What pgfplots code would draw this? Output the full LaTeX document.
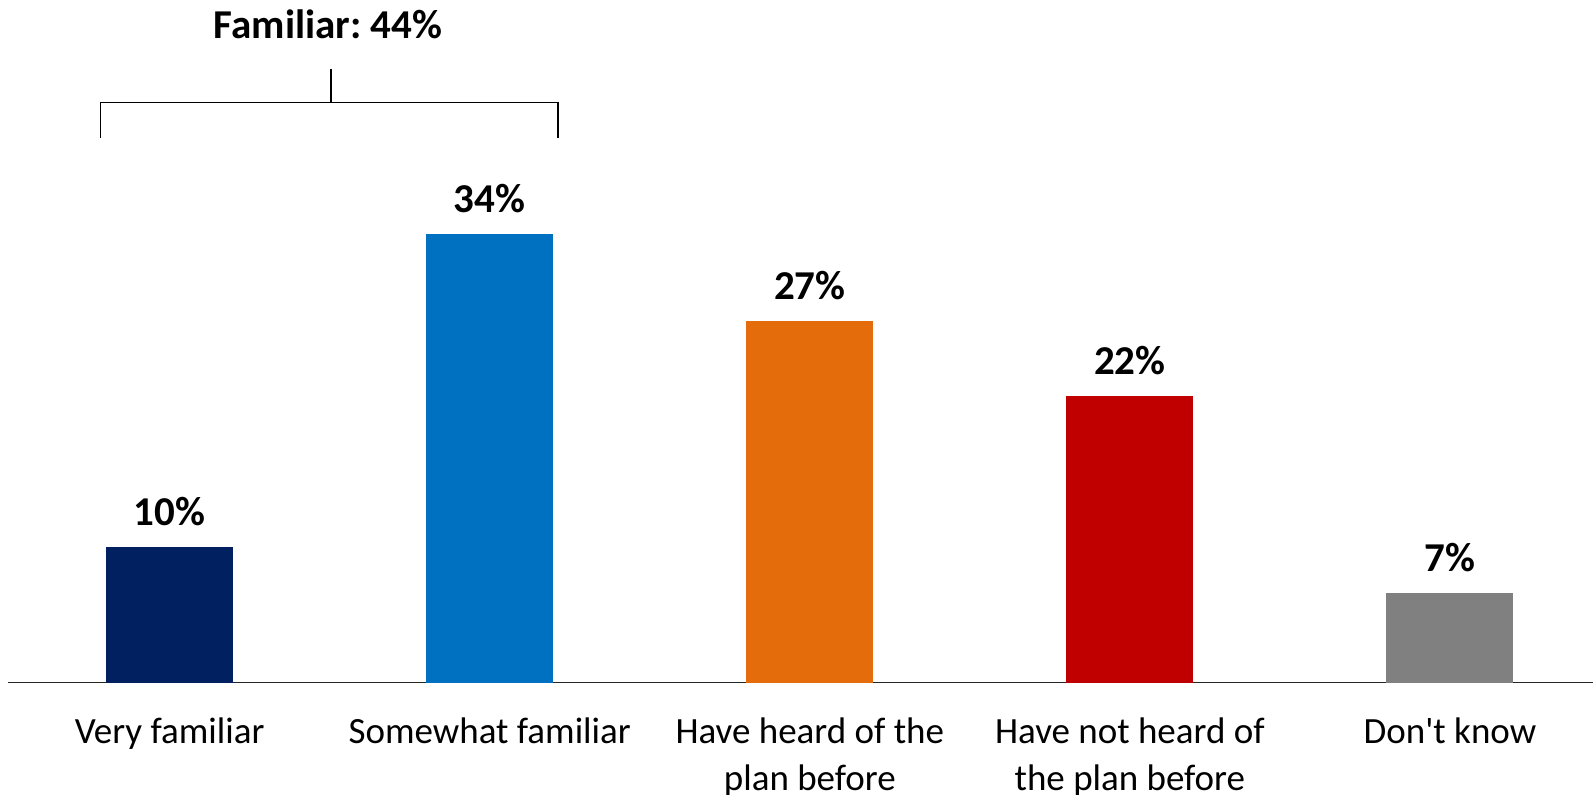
\documentclass[border=0pt]{standalone}
\usepackage{fontspec}
\setmainfont{Carlito}
\usepackage{pgfplots}
\pgfplotsset{compat=1.18}
\frenchspacing
\definecolor{c1}{HTML}{002060}
\definecolor{c2}{HTML}{0070C0}
\definecolor{c3}{HTML}{E46C0A}
\definecolor{c4}{HTML}{C00000}
\definecolor{c5}{HTML}{808080}
\begin{document}
\frenchspacing
\begin{tikzpicture}
\useasboundingbox (0,0) rectangle (796.5pt,397.5pt);
\begin{axis}[
  at={(4pt,56.15pt)}, anchor=south west,
  scale only axis, width=792.5pt, height=330pt,
  xmin=-0.505, xmax=4.447, ymin=0, ymax=50,
  clip=false,
  axis y line=none,
  axis x line*=bottom,
  x axis line style={-, line width=0.8pt, color=black!85},
  xtick={0,1,2,3,4},
  xticklabels={Very familiar, Somewhat familiar, {Have heard of the\\plan before}, {Have not heard of\\the plan before}, Don\textquotesingle t know},
  xticklabel style={align=center, font=\fontsize{18.5}{23.4}\selectfont, yshift=-14pt},
  major tick length=0pt,
  ybar, bar width=63.5pt, bar shift=0pt,
  point meta=explicit symbolic,
  nodes near coords,
  every node near coord/.style={font=\bfseries\fontsize{20.5}{24}\selectfont, anchor=south, yshift=7pt, text=black},
]
\addplot[fill=c1, draw=none] coordinates {(0,10.3) [10\%]};
\addplot[fill=c2, draw=none] coordinates {(1,34.0) [34\%]};
\addplot[fill=c3, draw=none] coordinates {(2,27.4) [27\%]};
\addplot[fill=c4, draw=none] coordinates {(3,21.7) [22\%]};
\addplot[fill=c5, draw=none] coordinates {(4,6.8) [7\%]};
\draw[line width=0.9pt] (axis cs:-0.216,41.3) -- (axis cs:-0.216,43.95) -- (axis cs:1.213,43.95) -- (axis cs:1.213,41.3);
\draw[line width=0.9pt] (axis cs:0.505,43.95) -- (axis cs:0.505,46.5);
\node[font=\bfseries\fontsize{20.5}{24}\selectfont] at (axis cs:0.495,49.9) {Familiar: 44\%};
\end{axis}
\end{tikzpicture}
\end{document}
